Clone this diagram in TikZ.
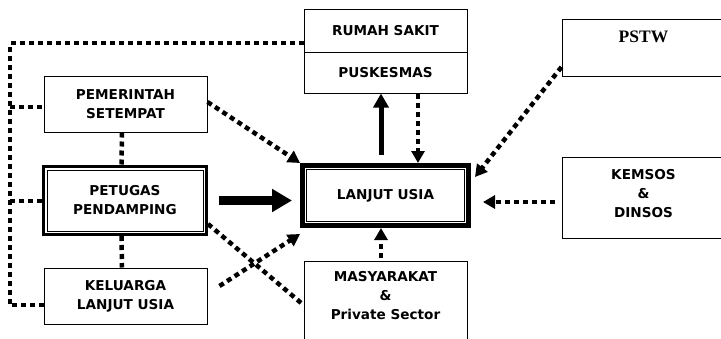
\documentclass[tikz,border=0pt]{standalone}
\usepackage{fontspec}
\usetikzlibrary{arrows.meta}
\newfontfamily\boxfont{DejaVu Sans}
\newfontfamily\pstwfont{Liberation Serif}
\tikzset{
  boxfnt/.style={font=\boxfont\bfseries\fontsize{13.6}{19}\selectfont},
  box/.style={draw, line width=1pt, minimum width=163pt, align=center, inner sep=0pt, boxfnt},
  toptext/.style={anchor=north, inner sep=0pt, align=center, boxfnt},
  dotline/.style={line width=4.5pt, dash pattern=on 5pt off 4pt},
  dotarrow/.style={dotline, -{Triangle[length=12pt,width=13pt]}},
  bigarrow/.style={line width=9pt, -{Triangle[length=20pt,width=22pt]}},
  solidarrow/.style={line width=5pt, -{Triangle[length=14pt,width=15pt]}},
}
\begin{document}
\begin{tikzpicture}[x=1pt,y=-1pt]
\useasboundingbox (0,0) rectangle (721,338);
\fill[white] (0,0) rectangle (721,338);
\clip (0,0) rectangle (721,338);

% nodes
\node[box, minimum height=43pt] (rs) at (385.5,30.5) {RUMAH SAKIT};
\node[box, minimum height=41pt] (pk) at (385.5,72.5) {PUSKESMAS};
\node[box, minimum height=57pt,
  label={[anchor=north, inner sep=0pt, yshift=-12pt, font=\pstwfont\bfseries\fontsize{17.5}{20}\selectfont]north:PSTW}]
  (pstw) at (643.5,47.5) {};
\node[box, minimum height=56pt] (pem) at (125.5,104) {PEMERINTAH\\SETEMPAT};
\node[box, line width=3pt, minimum height=68pt] (pet) at (125,200.5) {PETUGAS\\PENDAMPING};
\node[box, minimum height=56pt] (kel) at (125.5,296) {KELUARGA\\LANJUT USIA};
\node[box, line width=5pt, minimum width=166pt, minimum height=60pt] (lan) at (385.5,195.5) {LANJUT USIA};
\node[box, minimum height=88pt,
  label={[toptext, yshift=-11pt]north:{MASYARAKAT\\\&\\Private Sector}}]
  (mas) at (385.5,305) {};
\node[box, minimum height=81pt,
  label={[toptext, yshift=-13pt]north:{KEMSOS\\\&\\DINSOS}}]
  (kem) at (643.5,197.5) {};

% inner lines of double frames
\draw[line width=1pt] ([shift={(5pt,-5pt)}]pet.north west) rectangle ([shift={(-5pt,5pt)}]pet.south east);
\draw[line width=1pt] ([shift={(6.5pt,-6.5pt)}]lan.north west) rectangle ([shift={(-6.5pt,6.5pt)}]lan.south east);

% left bus
\coordinate (busx) at (10,0);
\coordinate (kp) at ([yshift=-9pt]kel.west);
\coordinate (pp) at ([yshift=-3pt]pem.west);
\draw[dotline, line width=4pt] ([yshift=-12.5pt]rs.west) -| (busx |- kp) -- (kp);
\draw[dotline, line width=4pt] (busx |- pp) -- (pp);
\draw[dotline, line width=4pt] (busx |- pet.west) -- (pet.west);

% vertical links
\draw[dotline] ([xshift=-3.5pt]pem.south) -- ([xshift=-3.5pt]pet.north);
\draw[dotline] ([xshift=-3.5pt]pet.south) -- ([xshift=-3.5pt]kel.north);

% diagonal links
\draw[dotarrow] ([yshift=2pt]pem.east) -- (lan.north west);
\draw[dotline] ([yshift=-23.5pt]pet.east) -- (mas.west);
\draw[dotarrow] ([shift={(12pt,10pt)}]kel.east) -- ([yshift=-6pt]lan.south west);

% main arrow
\draw[bigarrow, shorten <=11pt, shorten >=8pt] (pet.east) -- (pet.east -| lan.west);

% puskesmas arrows
\draw[solidarrow, shorten <=8pt] ([xshift=-4.5pt]lan.north) -- ([xshift=-4.5pt]lan.north |- pk.south);
\draw[dotarrow] ([xshift=32.5pt]pk.south) -- ([xshift=32.5pt]pk.south |- lan.north);

% PSTW, KEMSOS, MASYARAKAT
\draw[dotarrow] ([yshift=-19.5pt]pstw.west) -- ([shift={(4pt,-14pt)}]lan.north east);
\draw[dotarrow, shorten <=7pt, shorten >=12pt] ([yshift=-4.5pt]kem.west) -- ([yshift=-4.5pt]kem.west -| lan.east);
\draw[dotarrow, shorten <=3pt] ([xshift=-4.5pt]mas.north) -- ([xshift=-4.5pt]mas.north |- lan.south);
\end{tikzpicture}
\end{document}
